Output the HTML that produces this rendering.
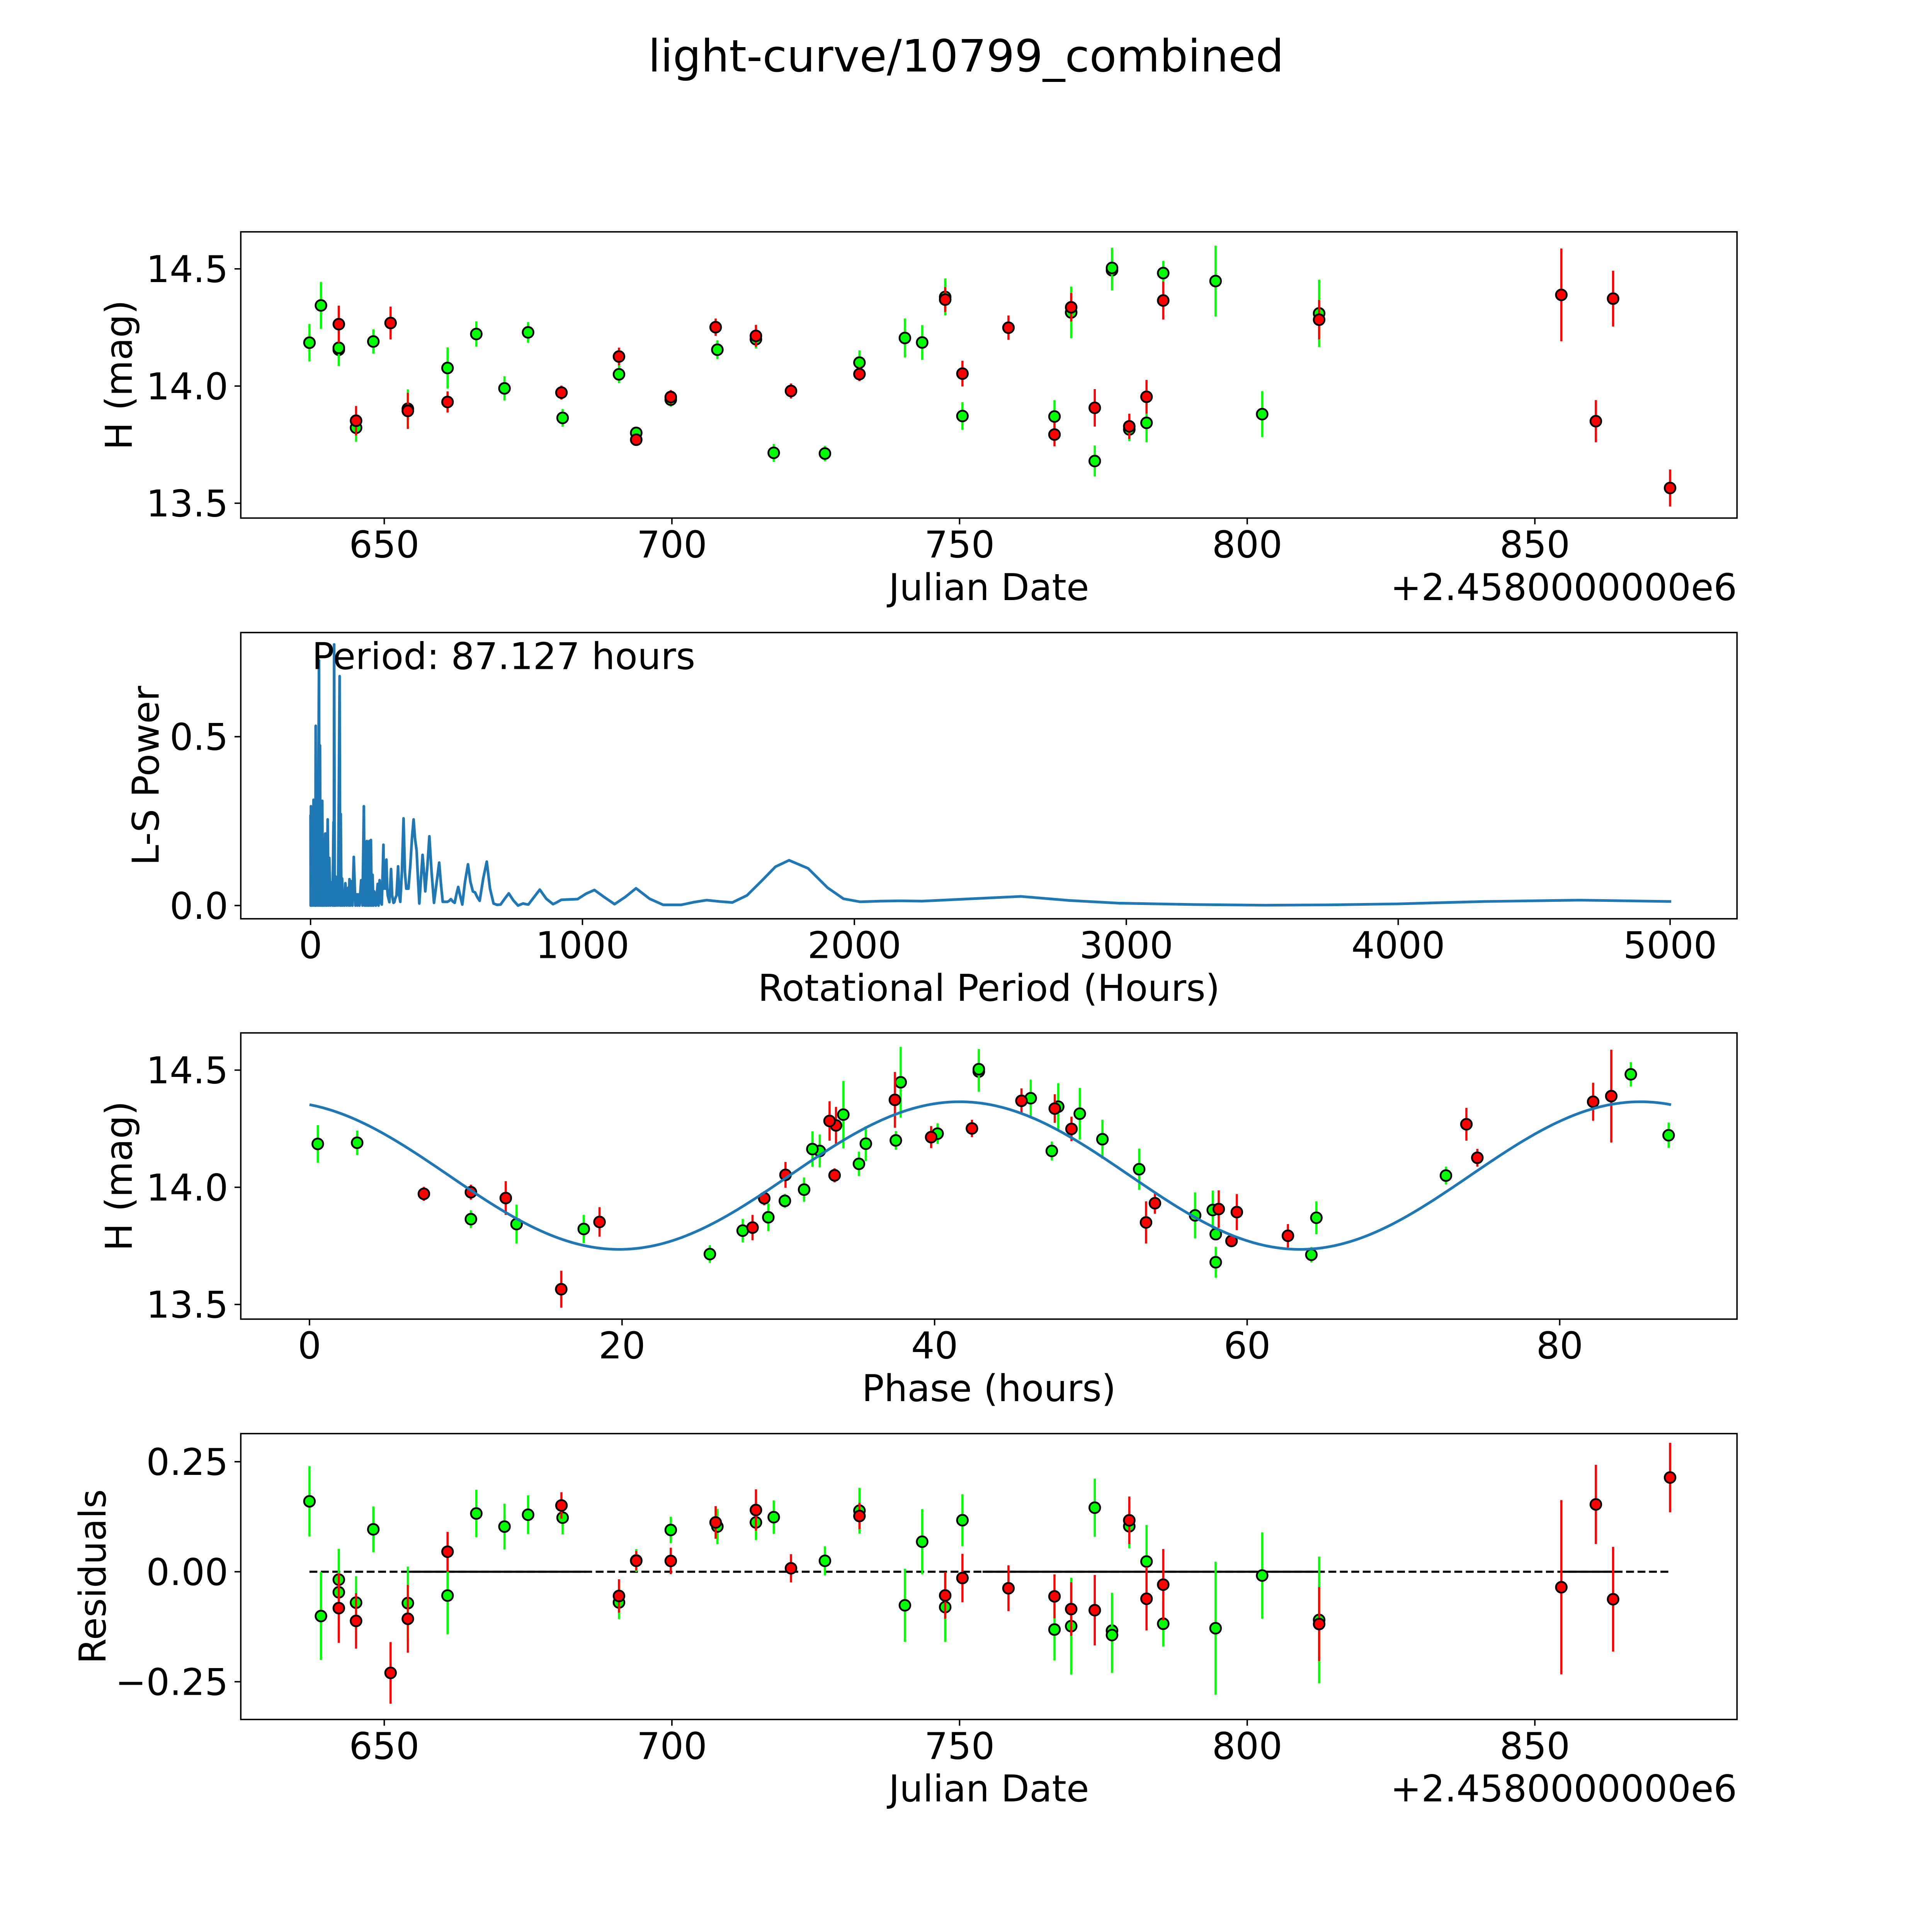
<!DOCTYPE html>
<html>
<head>
<meta charset="utf-8">
<style>
  html,body{margin:0;padding:0;background:#fff;overflow:hidden;width:100%;height:100%;}
  svg{display:block;width:100vw;height:100vh;}
  text{font-family:"DejaVu Sans","Liberation Sans",sans-serif;fill:#000;}
</style>
</head>
<body>
<svg id="fig" xmlns="http://www.w3.org/2000/svg" viewBox="0 0 5400 5400" preserveAspectRatio="none">
  <rect x="0" y="0" width="5400" height="5400" fill="#fff"/>
  <text x="2700" y="200" font-size="124" text-anchor="middle">light-curve/10799_combined</text>
</svg>
<script>
// ---------- data ----------
const jd = [637.0,639.0,642.1,642.1,642.1,645.1,645.1,648.1,651.1,654.1,654.1,661.0,661.0,666.0,670.9,675.0,680.8,681.0,690.8,690.8,693.8,693.8,699.8,699.8,707.6,707.9,714.6,714.6,717.7,720.7,726.6,732.6,732.6,740.5,743.5,747.5,747.5,750.5,750.5,758.5,766.5,766.5,769.4,769.4,773.5,773.5,776.5,776.5,779.5,779.5,782.5,782.5,785.4,785.4,794.5,802.6,812.5,812.5,854.6,860.6,863.6,873.5];
const mag = [14.185,14.344,14.264,14.155,14.163,13.852,13.822,14.19,14.269,13.903,13.894,13.932,14.077,14.222,13.99,14.229,13.972,13.864,14.126,14.05,13.80,13.771,13.942,13.953,14.251,14.155,14.2,14.214,13.715,13.979,13.712,14.10,14.051,14.205,14.186,14.38,14.369,14.053,13.872,14.249,13.87,13.793,14.314,14.336,13.68,13.907,14.494,14.504,13.815,13.828,13.843,13.954,14.482,14.365,14.448,13.88,14.31,14.283,14.389,13.85,14.373,13.565];
const magErr = [0.08,0.10,0.079,0.07,0.076,0.063,0.06,0.052,0.07,0.083,0.077,0.045,0.088,0.054,0.052,0.044,0.03,0.038,0.038,0.038,0.026,0.022,0.03,0.03,0.037,0.04,0.04,0.047,0.038,0.032,0.033,0.052,0.03,0.083,0.074,0.079,0.053,0.055,0.059,0.052,0.07,0.05,0.11,0.061,0.066,0.08,0.086,0.086,0.05,0.054,0.083,0.072,0.052,0.081,0.151,0.098,0.144,0.084,0.198,0.09,0.119,0.079];
const band = ["G","G","R","G","G","R","G","G","R","G","R","R","G","G","G","G","R","G","R","G","G","R","G","R","R","G","G","R","G","R","G","G","R","G","G","G","R","R","G","R","G","R","G","R","G","R","G","G","G","R","G","R","G","R","G","G","G","R","R","R","R","R"];
const phase = [0.53,47.91,33.69,32.65,32.18,18.56,17.55,3.05,74.03,57.8,59.34,54.1,53.09,86.97,31.65,40.19,7.32,10.33,74.73,72.72,57.99,59.0,30.42,29.1,42.39,47.5,37.52,39.78,25.62,10.33,64.11,35.16,33.6,50.74,35.6,46.15,45.56,30.46,29.36,48.76,64.43,62.61,49.29,47.69,57.99,58.18,42.83,42.83,27.72,28.35,13.25,12.56,84.55,82.14,37.83,56.67,34.16,33.28,83.3,53.53,37.46,16.11];
const lsPeriod = [0,0.5,1.5,3,5,8,11,14,16.6,18,19,20.5,22.6,27,31,32.5,34.7,37,39,41,43,45,47,50,54,56,58,60,63,66,69,73,77,81,84.5,85.5,86.7,89,92,94,96,101,107,109,111,113.5,116,119,122,125,128,133,139,141,143,146,149,154,159,165,170,172,175,180,186,191,196,199,201,204,207,209,211,213,216,219,222,225,228,231,234,240,247,250,254,258,262,268,270,273,276,279,282,284,290,296,300,305,308,311,316,322,326,330,336,342,347,352,356,360,364,367,373,379,384,390,395,400,406,412,417,422,430,437,445,454,464,473,480,486,495,503,510,516,523,530,537,543,550,558,568,579,588,597,601,605,613,622,635,648,660,673,686,699,714,729,746,763,772,782,792,801,822,843,867,892,907,922,952,982,1013,1044,1080,1118,1157,1197,1247,1297,1330,1363,1410,1457,1504,1551,1605,1659,1710,1760,1830,1901,1960,2021,2095,2169,2249,2430,2612,2790,2974,3250,3511,3750,4000,4317,4666,5004];
const lsPower = [0.269,0,0.294,0,0.247,0,0.313,0,0.313,0,0.532,0,0.313,0,0.726,0,0.474,0,0.247,0,0.31,0,0.152,0,0.213,0,0.213,0,0.255,0,0.141,0,0.069,0,0.247,0,0.773,0,0.086,0,0.064,0,0.679,0,0.271,0,0.08,0,0.042,0,0.066,0,0.053,0,0.078,0,0.072,0,0.144,0,0.033,0,0.033,0,0.075,0,0.294,0,0.042,0,0.191,0,0.042,0,0.191,0,0.194,0,0.091,0,0.042,0,0.064,0,0.075,0.01,0.003,0.18,0.05,0.075,0.05,0.136,0.05,0.03,0.01,0.108,0.03,0.008,0.01,0.02,0.03,0.116,0.03,0.011,0.1,0.258,0.1,0.05,0.05,0.05,0.09,0.119,0.2,0.255,0.2,0.163,0.08,0.006,0.08,0.15,0.1,0.042,0.12,0.205,0.1,0.008,0.07,0.127,0.06,0.011,0.011,0.011,0.014,0.019,0.012,0.008,0.035,0.055,0.03,0.003,0.07,0.122,0.07,0.042,0.04,0.039,0.025,0.014,0.08,0.13,0.05,0.006,0.002,0.003,0.02,0.036,0.015,0.0,0.003,0.006,0.004,0.003,0.025,0.047,0.02,0.004,0.01,0.017,0.018,0.019,0.035,0.046,0.025,0.004,0.025,0.051,0.02,0.002,0.002,0.002,0.01,0.016,0.012,0.009,0.03,0.073,0.115,0.134,0.11,0.053,0.02,0.011,0.013,0.014,0.013,0.02,0.027,0.015,0.007,0.003,0.001,0.002,0.005,0.012,0.016,0.012];
const jdTicks = [650,700,750,800,850];
const jdTickLabels = ["650","700","750","800","850"];
const magTicks = [13.5,14.0,14.5];
const magTickLabels = ["13.5","14.0","14.5"];
const lsXTicks = [0,1000,2000,3000,4000,5000];
const lsXTickLabels = ["0","1000","2000","3000","4000","5000"];
const lsYTicks = [0.0,0.5];
const lsYTickLabels = ["0.0","0.5"];
const phaseTicks = [0,20,40,60,80];
const phaseTickLabels = ["0","20","40","60","80"];
const resTicks = [-0.25,0,0.25];
const resTickLabels = ["\u22120.25","0.00","0.25"];
const solidZeroSegStart = [654,754,855];
const solidZeroSegEnd = [685,813,864];
const modelMean = 14.05, modelAmp = 0.315, modelPeak = 41.6, modelCycle = 43.56, periodHours = 87.127;

// ---------- layout ----------
const FS = 103;
const L = 673, R = 4855;
const P = [{T:648,B:1448},{T:1768,B:2568},{T:2887,B:3687},{T:4007,B:4806}];
const xJD = v => 1074 + (v - 650) * 16.08;
const yMag1 = v => 1079 - (v - 14) * 655;
const xLS = v => 868 + v * 0.760;
const yLS = v => 2531 - v * 944;
const xPh = v => 865 + v * 43.68;
const yMag3 = v => 3318.5 - (v - 14) * 655;
const yRes = v => 4393 - v * 1230;
const model = p => modelMean + modelAmp * Math.cos(2 * Math.PI * (p - modelPeak) / modelCycle);
const COL = {G:"#00ff00", R:"#ff0000"};

const NS = "http://www.w3.org/2000/svg";
const svg = document.getElementById("fig");
function mk(tag, attrs, parent) {
  const e = document.createElementNS(NS, tag);
  for (const k in attrs) e.setAttribute(k, attrs[k]);
  (parent || svg).appendChild(e);
  return e;
}
function axesFrame(i, name) {
  const g = mk("g", {});
  
  
  const f = mk("rect", {x:L, y:P[i].T, width:R-L, height:P[i].B-P[i].T, fill:"none", stroke:"#000", "stroke-width":4}, g);
  
  
  return g;
}
function xTicks(g, i, vals, labels, fx) {
  for (let k = 0; k < vals.length; k++) {
    const x = fx(vals[k]);
    const t = mk("line", {x1:x, x2:x, y1:P[i].B, y2:P[i].B+17.5, stroke:"#000", "stroke-width":4}, g);
    
    
    const tx = mk("text", {x:x, y:P[i].B+110, "font-size":FS, "text-anchor":"middle"}, g);
    tx.textContent = labels[k];
    
    
  }
}
function yTicks(g, i, vals, labels, fy) {
  for (let k = 0; k < vals.length; k++) {
    const y = fy(vals[k]);
    const t = mk("line", {x1:L, x2:L-17.5, y1:y, y2:y, stroke:"#000", "stroke-width":4}, g);
    
    
    const tx = mk("text", {x:L-35, y:y+37, "font-size":FS, "text-anchor":"end"}, g);
    tx.textContent = labels[k];
    
    
  }
}
function xLabel(g, i, txt) {
  const t = mk("text", {x:(L+R)/2, y:P[i].B+229, "font-size":FS, "text-anchor":"middle"}, g);
  t.textContent = txt;
  
  
}
function offsetText(g, i) {
  const t = mk("text", {x:R, y:P[i].B+229, "font-size":FS, "text-anchor":"end"}, g);
  t.textContent = "+2.4580000000e6";
  
  
}
function yLabel(g, i, txt, cx) {
  const cy = (P[i].T + P[i].B) / 2;
  const t = mk("text", {x:cx, y:cy, "font-size":FS, "text-anchor":"middle", "dominant-baseline":"central", transform:`rotate(-90 ${cx} ${cy})`}, g);
  t.textContent = txt;
  
  
}
function drawPoints(g, xs, ys, errs, bands) {
  for (const b of ["G","R"]) {
    for (let k = 0; k < xs.length; k++) {
      if (bands[k] !== b) continue;
      const x = xs[k], y = ys[k], e = errs[k];
      const eb = mk("line", {x1:x, x2:x, y1:y-e, y2:y+e, stroke:COL[b], "stroke-width":6}, g);
      
      
      const c = mk("circle", {cx:x, cy:y, r:15, fill:COL[b], stroke:"#000", "stroke-width":5}, g);
      
      
    }
  }
}

// ---------- panel 1 ----------
{
  const g = axesFrame(0, 'light-curve-panel');
  const xs = jd.map(xJD), ys = mag.map(yMag1), es = magErr.map(e => e * 655);
  drawPoints(g, xs, ys, es, band);
  xTicks(g, 0, jdTicks, jdTickLabels, xJD);
  yTicks(g, 0, magTicks, magTickLabels, yMag1);
  xLabel(g, 0, "Julian Date");
  offsetText(g, 0);
  yLabel(g, 0, "H (mag)", 333);
}
// ---------- panel 2 ----------
{
  const g = axesFrame(1, 'periodogram-panel');
  let d = "";
  for (let k = 0; k < lsPeriod.length; k++) d += (k ? "L" : "M") + xLS(lsPeriod[k]).toFixed(1) + " " + yLS(lsPower[k]).toFixed(1);
  const p = mk("path", {d:d, fill:"none", stroke:"#1f77b4", "stroke-width":7.5, "stroke-linejoin":"round"}, g);
  
  
  xTicks(g, 1, lsXTicks, lsXTickLabels, xLS);
  yTicks(g, 1, lsYTicks, lsYTickLabels, yLS);
  xLabel(g, 1, "Rotational Period (Hours)");
  yLabel(g, 1, "L-S Power", 408);
  const t = mk("text", {x:872, y:1870, "font-size":FS}, g);
  t.textContent = "Period: 87.127 hours";
  
  
}
// ---------- panel 3 ----------
{
  const g = axesFrame(2, 'phase-panel');
  let d = "";
  for (let k = 0; k <= 300; k++) {
    const ph = periodHours * k / 300;
    d += (k ? "L" : "M") + xPh(ph).toFixed(1) + " " + yMag3(model(ph)).toFixed(1);
  }
  const xs = phase.map(xPh), ys = mag.map(yMag3), es = magErr.map(e => e * 655);
  drawPoints(g, xs, ys, es, band);
  const c = mk("path", {d:d, fill:"none", stroke:"#1f77b4", "stroke-width":7.5}, g);
  
  
  xTicks(g, 2, phaseTicks, phaseTickLabels, xPh);
  yTicks(g, 2, magTicks, magTickLabels, yMag3);
  xLabel(g, 2, "Phase (hours)");
  yLabel(g, 2, "H (mag)", 333);
}
// ---------- panel 4 ----------
{
  const g = axesFrame(3, 'residuals-panel');
  const jmin = Math.min(...jd), jmax = Math.max(...jd);
  const z = mk("line", {x1:xJD(jmin), x2:xJD(jmax), y1:yRes(0), y2:yRes(0), stroke:"#000", "stroke-width":6, "stroke-dasharray":"22 10"}, g);
  
  
  for (let k = 0; k < solidZeroSegStart.length; k++) {
    const s = mk("line", {x1:xJD(solidZeroSegStart[k]), x2:xJD(solidZeroSegEnd[k]), y1:yRes(0), y2:yRes(0), stroke:"#000", "stroke-width":6}, g);
    
    
  }
  const res = mag.map((m, k) => model(phase[k]) - m);
  const xs = jd.map(xJD), ys = res.map(yRes), es = magErr.map(e => e * 1230);
  drawPoints(g, xs, ys, es, band);
  xTicks(g, 3, jdTicks, jdTickLabels, xJD);
  yTicks(g, 3, resTicks, resTickLabels, yRes);
  xLabel(g, 3, "Julian Date");
  offsetText(g, 3);
  yLabel(g, 3, "Residuals", 260);
}
</script>
</body>
</html>
